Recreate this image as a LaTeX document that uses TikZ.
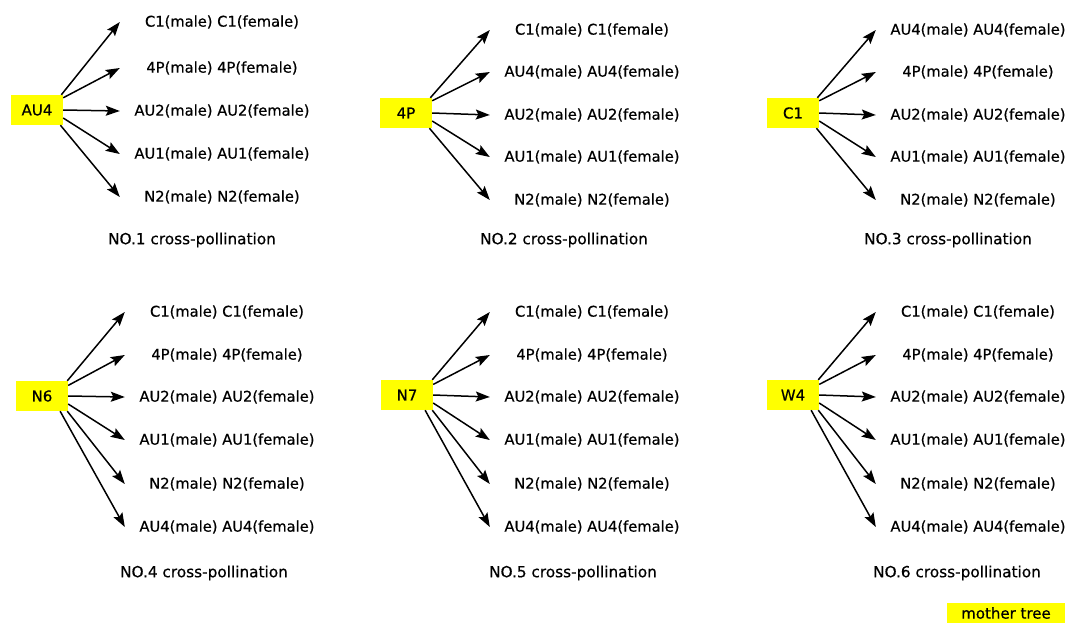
\documentclass[tikz,border=0pt]{standalone}
\usepackage{fontspec}
\setmainfont[FakeBold=0.6]{DejaVu Sans}
\usepackage{xcolor}
\definecolor{tree-yellow}{RGB}{255,255,0}
\usetikzlibrary{arrows.meta}
\tikzset{
  mother/.style={
    fill=tree-yellow,
    minimum width=52pt,
    minimum height=30pt,
    inner sep=0pt,
    font=\fontsize{15}{18}\selectfont
  },
  cross/.style={
    minimum width=204pt,
    inner sep=0pt,
    font=\fontsize{14.7}{18}\selectfont
  },
  caption/.style={
    inner sep=0pt,
    font=\fontsize{15.3}{18}\selectfont
  },
  pollen/.style={
    line width=1.5pt,
    -{Stealth[length=14pt,width=10pt,inset=2.5pt]}
  },
}

\begin{document}
\begin{tikzpicture}[x=1pt,y=-1pt]
  \clip (0,0) rectangle (1073,622);
  \fill[white] (0,0) rectangle (1073,622);

  % NO.1
  \node[mother] (au4) at (37,110) {AU4};
  \node[cross] (a1) at (222,22) {C1(male) C1(female)};
  \node[cross] (a2) at (222,68) {4P(male) 4P(female)};
  \node[cross] (a3) at (222,111) {AU2(male) AU2(female)};
  \node[cross] (a4) at (222,154) {AU1(male) AU1(female)};
  \node[cross] (a5) at (222,197) {N2(male) N2(female)};
  \node[caption] (capa) at (192,240) {NO.1 cross-pollination};
  \draw[pollen] (au4.32) -- (a1.west);
  \draw[pollen] (au4.25) -- (a2.west);
  \draw[pollen] (au4.0) -- (a3.west);
  \draw[pollen] (au4.-17) -- (a4.west);
  \draw[pollen] (au4.-33) -- (a5.west);

  % NO.2
  \node[mother] (p4) at (406,113) {4P};
  \node[cross] (b1) at (592,30) {C1(male) C1(female)};
  \node[cross] (b2) at (592,72) {AU4(male) AU4(female)};
  \node[cross] (b3) at (592,115) {AU2(male) AU2(female)};
  \node[cross] (b4) at (592,157) {AU1(male) AU1(female)};
  \node[cross] (b5) at (592,200) {N2(male) N2(female)};
  \node[caption] (capb) at (564,240) {NO.2 cross-pollination};
  \draw[pollen] (p4.32) -- (b1.west);
  \draw[pollen] (p4.25) -- (b2.west);
  \draw[pollen] (p4.0) -- (b3.west);
  \draw[pollen] (p4.-17) -- (b4.west);
  \draw[pollen] (p4.-33) -- (b5.west);

  % NO.3
  \node[mother] (c1) at (793,113) {C1};
  \node[cross] (c1a) at (978,30) {AU4(male) AU4(female)};
  \node[cross] (c1b) at (978,72) {4P(male) 4P(female)};
  \node[cross] (c1c) at (978,115) {AU2(male) AU2(female)};
  \node[cross] (c1d) at (978,157) {AU1(male) AU1(female)};
  \node[cross] (c1e) at (978,200) {N2(male) N2(female)};
  \node[caption] (capc) at (948,240) {NO.3 cross-pollination};
  \draw[pollen] (c1.32) -- (c1a.west);
  \draw[pollen] (c1.25) -- (c1b.west);
  \draw[pollen] (c1.0) -- (c1c.west);
  \draw[pollen] (c1.-17) -- (c1d.west);
  \draw[pollen] (c1.-33) -- (c1e.west);

  % NO.4
  \node[mother] (n6) at (42,396) {N6};
  \node[cross] (d1) at (227,312) {C1(male) C1(female)};
  \node[cross] (d2) at (227,355) {4P(male) 4P(female)};
  \node[cross] (d3) at (227,397) {AU2(male) AU2(female)};
  \node[cross] (d4) at (227,440) {AU1(male) AU1(female)};
  \node[cross] (d5) at (227,484) {N2(male) N2(female)};
  \node[cross] (d6) at (227,527) {AU4(male) AU4(female)};
  \node[caption] (capd) at (204,573) {NO.4 cross-pollination};
  \draw[pollen] (n6.31) -- (d1.west);
  \draw[pollen] (n6.22) -- (d2.west);
  \draw[pollen] (n6.0) -- (d3.west);
  \draw[pollen] (n6.-17) -- (d4.west);
  \draw[pollen] (n6.-31) -- (d5.west);
  \draw[pollen] (n6.-40) -- (d6.west);

  % NO.5
  \node[mother] (n7) at (407,395) {N7};
  \node[cross] (e1) at (592,312) {C1(male) C1(female)};
  \node[cross] (e2) at (592,355) {4P(male) 4P(female)};
  \node[cross] (e3) at (592,397) {AU2(male) AU2(female)};
  \node[cross] (e4) at (592,440) {AU1(male) AU1(female)};
  \node[cross] (e5) at (592,484) {N2(male) N2(female)};
  \node[cross] (e6) at (592,527) {AU4(male) AU4(female)};
  \node[caption] (cape) at (573,573) {NO.5 cross-pollination};
  \draw[pollen] (n7.31) -- (e1.west);
  \draw[pollen] (n7.22) -- (e2.west);
  \draw[pollen] (n7.0) -- (e3.west);
  \draw[pollen] (n7.-17) -- (e4.west);
  \draw[pollen] (n7.-31) -- (e5.west);
  \draw[pollen] (n7.-40) -- (e6.west);

  % NO.6
  \node[mother] (w4) at (793,395) {W4};
  \node[cross] (f1) at (978,312) {C1(male) C1(female)};
  \node[cross] (f2) at (978,355) {4P(male) 4P(female)};
  \node[cross] (f3) at (978,397) {AU2(male) AU2(female)};
  \node[cross] (f4) at (978,440) {AU1(male) AU1(female)};
  \node[cross] (f5) at (978,484) {N2(male) N2(female)};
  \node[cross] (f6) at (978,527) {AU4(male) AU4(female)};
  \node[caption] (capf) at (957,573) {NO.6 cross-pollination};
  \draw[pollen] (w4.31) -- (f1.west);
  \draw[pollen] (w4.22) -- (f2.west);
  \draw[pollen] (w4.0) -- (f3.west);
  \draw[pollen] (w4.-17) -- (f4.west);
  \draw[pollen] (w4.-31) -- (f5.west);
  \draw[pollen] (w4.-40) -- (f6.west);

  % legend
  \node[mother, minimum width=118pt, minimum height=20pt] (legend) at (1006,613) {mother tree};

\end{tikzpicture}
\end{document}
